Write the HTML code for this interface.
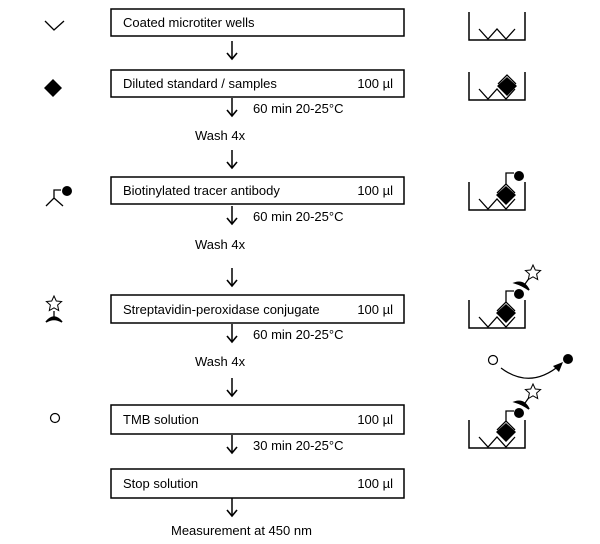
<!DOCTYPE html>
<html><head><style>body{margin:0;background:#fff}svg{display:block}text{font-family:"Liberation Sans",sans-serif;font-size:13px;fill:#000}</style></head><body>
<svg width="600" height="544" viewBox="0 0 600 544" xmlns="http://www.w3.org/2000/svg">
<defs>
<g id="ar"><line x1="0" y1="0" x2="0" y2="-18" stroke="#000" stroke-width="1.5"/><path d="M-5,-6 L0,0 L5,-6" fill="none" stroke="#000" stroke-width="1.6"/></g>
<g id="well"><path d="M0,0 V28 H56 V0" fill="none" stroke="#000" stroke-width="1.5"/><path d="M10,17 L19,27 L28,17 L37,27 L46,17" fill="none" stroke="#000" stroke-width="1.3"/></g>
<g id="dia"><path d="M-9,-1 L0,-10 L9,-1" fill="none" stroke="#000" stroke-width="1.3"/><path d="M0,-8 L10,1 L0,11 L-10,1Z" fill="#000"/></g>
<g id="star"><path d="M0,-8 L2.3,-3 L7.6,-2.5 L3.6,1 L4.7,6.5 L0,3.8 L-4.7,6.5 L-3.6,1 L-7.6,-2.5 L-2.3,-3Z" fill="#fff" stroke="#000" stroke-width="1"/></g>
</defs>
<g fill="none" stroke="#000" stroke-width="1.5">
<rect x="111" y="9" width="293" height="27"/>
<rect x="111" y="70" width="293" height="27"/>
<rect x="111" y="177" width="293" height="27"/>
<rect x="111" y="295" width="293" height="28"/>
<rect x="111" y="405" width="293" height="29"/>
<rect x="111" y="469" width="293" height="29"/>
</g>
<use href="#ar" x="232" y="59"/>
<use href="#ar" x="232" y="116"/>
<use href="#ar" x="232" y="168"/>
<use href="#ar" x="232" y="224"/>
<use href="#ar" x="232" y="286"/>
<use href="#ar" x="232" y="342"/>
<use href="#ar" x="232" y="396"/>
<use href="#ar" x="232" y="453"/>
<use href="#ar" x="232" y="516"/>
<text x="123" y="27">Coated microtiter wells</text>
<text x="123" y="88">Diluted standard / samples</text><text x="393" y="88" text-anchor="end">100 µl</text>
<text x="123" y="195">Biotinylated tracer antibody</text><text x="393" y="195" text-anchor="end">100 µl</text>
<text x="123" y="314">Streptavidin-peroxidase conjugate</text><text x="393" y="314" text-anchor="end">100 µl</text>
<text x="123" y="424">TMB solution</text><text x="393" y="424" text-anchor="end">100 µl</text>
<text x="123" y="488">Stop solution</text><text x="393" y="488" text-anchor="end">100 µl</text>
<text x="253" y="113">60 min 20-25°C</text><text x="195" y="140">Wash 4x</text>
<text x="253" y="221">60 min 20-25°C</text><text x="195" y="249">Wash 4x</text>
<text x="253" y="339">60 min 20-25°C</text><text x="195" y="366">Wash 4x</text>
<text x="253" y="450">30 min 20-25°C</text>
<text x="171" y="535">Measurement at 450 nm</text>
<path d="M45,21 L54,30 L64,21" fill="none" stroke="#000" stroke-width="1.3"/>
<path d="M53,79 L62,88 L53,97 L44,88Z" fill="#000"/>
<path d="M46,206 L54,198 L63,206 M54,198 V190 H61" fill="none" stroke="#000" stroke-width="1.3"/><circle cx="67" cy="191" r="5" fill="#000"/>
<use href="#star" x="54" y="304"/><line x1="54" y1="311" x2="54" y2="318" stroke="#000" stroke-width="1.3"/><path d="M46,322 Q54,312 62,322 Q54,317 46,322Z" fill="#000" stroke="#000" stroke-width="1.5"/>
<circle cx="55" cy="418" r="4.5" fill="none" stroke="#000" stroke-width="1.2"/>
<use href="#well" x="469" y="12"/>
<use href="#well" x="469" y="72"/><use href="#dia" x="507" y="85"/>
<use href="#well" x="469" y="182"/><use href="#dia" x="506" y="194"/>
<path d="M506,184 V173 H514" fill="none" stroke="#000" stroke-width="1.3"/><circle cx="519" cy="176" r="5" fill="#000"/>
<use href="#well" x="469" y="300"/><use href="#dia" x="506" y="312"/>
<path d="M506,302 V291 H514" fill="none" stroke="#000" stroke-width="1.3"/><circle cx="519" cy="294" r="5" fill="#000"/>
<path d="M515,283 Q524,280 529,290 Q522,285 515,283Z" fill="#000" stroke="#000" stroke-width="1.5"/>
<line x1="525" y1="284" x2="530" y2="277" stroke="#000" stroke-width="1.2"/><use href="#star" x="533" y="273"/>
<circle cx="493" cy="360" r="4.5" fill="none" stroke="#000" stroke-width="1.2"/>
<path d="M501,368 Q530,390 560,365" fill="none" stroke="#000" stroke-width="1.2"/><path d="M563,362 L553,366 L559,372Z" fill="#000"/>
<circle cx="568" cy="359" r="5" fill="#000"/>
<use href="#well" x="469" y="420"/><use href="#dia" x="506" y="431"/>
<path d="M506,421 V411 H514" fill="none" stroke="#000" stroke-width="1.3"/><circle cx="519" cy="413" r="5" fill="#000"/>
<path d="M515,402 Q524,399 529,409 Q522,404 515,402Z" fill="#000" stroke="#000" stroke-width="1.5"/>
<line x1="525" y1="403" x2="530" y2="396" stroke="#000" stroke-width="1.2"/><use href="#star" x="533" y="392"/>
</svg>
</body></html>
